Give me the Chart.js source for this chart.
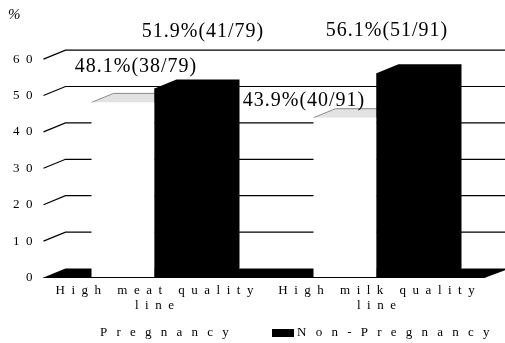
<!DOCTYPE html>
<html><head><meta charset="utf-8">
<script src="https://cdn.jsdelivr.net/npm/chart.js@4/dist/chart.umd.min.js"></script>
<style>html,body{margin:0;padding:0;background:#fff}#wrap{width:505px;height:343px;position:relative}</style>
</head><body><div id="wrap"><canvas id="c" width="505" height="343"></canvas></div>
<script>
// ---- data ----
const categories = [["H  i  g  h     m  e  a  t     q  u  a  l  i  t  y", "l  i  n  e"],
                    ["H  i  g  h     m  i  l  k     q  u  a  l  i  t  y", "l  i  n  e"]];
const seriesNames = ["P r e g n a n c y", "N o n - P r e g n a n c y"];
const pregnancy = [48.1, 43.9];
const nonPregnancy = [51.9, 56.1];
const pregnancyCounts = ["38/79", "40/91"];
const nonPregnancyCounts = ["41/79", "51/91"];
const yTickValues = [0, 10, 20, 30, 40, 50, 60];
const unitLabel = "%";

// ---- styling / layout (not data) ----
const DX = 22, DY = -9;
const SERIF = "'Liberation Serif', 'DejaVu Serif', serif";
// label nudges relative to bar top-centre (px)
const labelNudge = [[[13, -36], [-41, -17]], [[17, -56.5], [-21, -43]]];

const counts = [pregnancyCounts, nonPregnancyCounts];

const threeD = {
  id: 'threeD',
  beforeDatasetsDraw(chart) {
    const ctx = chart.ctx, xs = chart.scales.x, ys = chart.scales.y;
    const L = xs.left, R = xs.right;
    ctx.save();
    ctx.strokeStyle = '#000';
    ctx.lineWidth = 1.2;
    yTickValues.forEach(v => {
      if (v === 0) return;
      const yf = ys.getPixelForValue(v);
      ctx.beginPath();
      ctx.moveTo(L, yf);
      ctx.lineTo(L + DX, yf + DY);
      ctx.lineTo(chart.width, yf + DY);
      ctx.stroke();
    });
    // floor slab
    const y0 = ys.getPixelForValue(0);
    ctx.fillStyle = '#000';
    ctx.beginPath();
    ctx.moveTo(L, y0);
    ctx.lineTo(L + DX, y0 + DY);
    ctx.lineTo(R + DX, y0 + DY);
    ctx.lineTo(R - 2, y0);
    ctx.closePath();
    ctx.fill();
    // top faces of white bars
    const meta = chart.getDatasetMeta(0);
    meta.data.forEach(el => {
      const p = el.getProps(['x', 'y', 'width'], true);
      const l = p.x - p.width / 2, r = p.x + p.width / 2;
      ctx.fillStyle = '#e2e2e2';
      ctx.beginPath();
      ctx.moveTo(l, p.y);
      ctx.lineTo(l + DX, p.y + DY);
      ctx.lineTo(r + DX, p.y + DY);
      ctx.lineTo(r, p.y);
      ctx.closePath();
      ctx.fill();
      ctx.strokeStyle = '#8a8a8a';
      ctx.lineWidth = 1;
      ctx.beginPath();
      ctx.moveTo(l, p.y);
      ctx.lineTo(l + DX, p.y + DY);
      ctx.lineTo(r + DX, p.y + DY);
      ctx.stroke();
    });
    ctx.restore();
  },
  afterDatasetsDraw(chart) {
    const ctx = chart.ctx, xs = chart.scales.x, ys = chart.scales.y;
    const y0 = ys.getPixelForValue(0);
    ctx.save();
    ctx.fillStyle = '#000';
    chart.getDatasetMeta(1).data.forEach(el => {
      const p = el.getProps(['x', 'y', 'base', 'width'], true);
      const l = p.x - p.width / 2, r = p.x + p.width / 2;
      ctx.beginPath();
      ctx.moveTo(l, p.base);
      ctx.lineTo(l, p.y);
      ctx.lineTo(l + DX, p.y + DY);
      ctx.lineTo(r + DX, p.y + DY);
      ctx.lineTo(r + DX, p.base + DY);
      ctx.lineTo(r, p.base);
      ctx.closePath();
      ctx.fill();
    });
    ctx.strokeStyle = '#000';
    ctx.lineWidth = 1.2;
    ctx.beginPath();
    ctx.moveTo(xs.left, y0);
    ctx.lineTo(xs.right - 2, y0);
    ctx.stroke();
    ctx.restore();
  },
  afterDraw(chart) {
    const ctx = chart.ctx;
    ctx.save();
    // value labels
    ctx.fillStyle = '#000';
    ctx.font = '20px ' + SERIF;
    ctx.textAlign = 'center';
    ctx.textBaseline = 'middle';
    ctx.letterSpacing = '1px';
    chart.data.datasets.forEach((ds, di) => {
      chart.getDatasetMeta(di).data.forEach((el, i) => {
        const p = el.getProps(['x', 'y'], true);
        const n = labelNudge[di][i];
        ctx.fillText(ds.data[i].toFixed(1) + '%(' + counts[di][i] + ')', p.x + n[0], p.y + n[1]);
      });
    });
    // unit
    ctx.letterSpacing = '0px';
    ctx.font = 'italic 15px ' + SERIF;
    ctx.textAlign = 'left';
    ctx.fillText(unitLabel, 8, 15);
    // legend
    ctx.font = '13px ' + SERIF;
    ctx.letterSpacing = '3px';
    const items = [{box: 72, text: 100}, {box: 272, text: 297}];
    chart.data.datasets.forEach((ds, di) => {
      const it = items[di];
      ctx.fillStyle = ds.backgroundColor;
      ctx.fillRect(it.box, 329, 22, 8);
      ctx.fillStyle = '#000';
      ctx.textBaseline = 'middle';
      ctx.fillText(ds.label, it.text, 333);
    });
    ctx.restore();
  }
};

new Chart(document.getElementById('c'), {
  type: 'bar',
  data: {
    labels: categories,
    datasets: [
      {label: seriesNames[0], data: pregnancy, backgroundColor: '#ffffff', borderWidth: 0},
      {label: seriesNames[1], data: nonPregnancy, backgroundColor: '#000000', borderWidth: 0}
    ]
  },
  options: {
    responsive: false,
    animation: false,
    devicePixelRatio: 1,
    categoryPercentage: 0.5676,
    barPercentage: 1,
    layout: {padding: {top: 59.1, right: 17.5, bottom: 25.5, left: 0}},
    plugins: {legend: {display: false}, tooltip: {enabled: false}},
    scales: {
      y: {
        min: 0, max: 60,
        afterFit: s => { s.width = 43.5; },
        afterBuildTicks: s => { s.ticks = yTickValues.map(v => ({value: v})); },
        grid: {display: false, drawTicks: false},
        border: {display: false},
        ticks: {
          color: '#000', padding: 11,
          font: {family: SERIF, size: 13},
          callback: v => String(v).split('').join('  ')
        }
      },
      x: {
        afterFit: s => { s.height = 40; },
        grid: {display: false, drawTicks: false},
        border: {display: false},
        ticks: {color: '#000', padding: 5, maxRotation: 0, autoSkip: false,
                font: {family: SERIF, size: 13, lineHeight: 1.2}}
      }
    }
  },
  plugins: [threeD]
});
</script>
</body></html>
